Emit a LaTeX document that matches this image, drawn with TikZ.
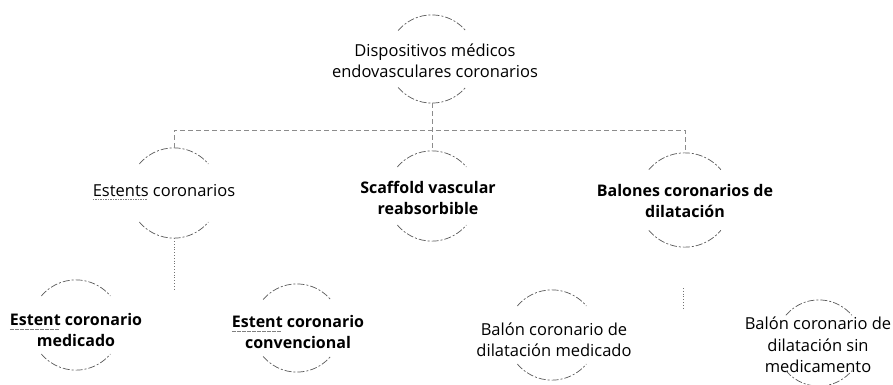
\documentclass[tikz,border=0pt]{standalone}
\usepackage{fontspec}
\setmainfont{Open Sans}
\usetikzlibrary{positioning}

\tikzset{
  hole/.style={circle, minimum size=#1, inner sep=0pt},
  item/.style={align=center, inner sep=0pt, font=\fontsize{16.5}{21.5}\selectfont},
  boss/.style={item, font=\fontsize{16}{20.5}\selectfont\bfseries},
  ring/.style={draw=black!65, dash pattern=on 7pt off 2pt on 2pt off 2pt, line width=0.7pt},
  link/.style={draw=black!45, dash pattern=on 5pt off 3pt, line width=0.6pt},
  drop/.style={draw=black!55, dotted, line width=0.8pt},
}
% top and bottom arcs round a hole node
\newcommand{\ring}[2]{%
  \draw[ring] (#1.140) arc[start angle=140, end angle=40, radius=#2];
  \draw[ring] (#1.-140) arc[start angle=-140, end angle=-40, radius=#2];
}
% dashed grey underline
\newcommand{\spell}[1]{\setbox0\hbox{#1}%
  \rlap{\raisebox{-3.5pt}{\hbox to \wd0{\color{black!50}\leaders\hbox to 2.5pt{\rule{1.6pt}{0.5pt}\hss}\hfill}}}\box0\relax}

\begin{document}
\begin{tikzpicture}[x=1pt, y=-1pt]
  \useasboundingbox (0,0) rectangle (893,385);

  % rings
  \node[hole=88pt] (dev) at (432,59) {};
  \node[hole=90pt] (est) at (174,193) {};
  \node[hole=90pt] (scaf) at (432,196) {};
  \node[hole=94pt] (bal) at (685,200) {};
  \node[hole=90pt] (med) at (76,325) {};
  \node[hole=88pt] (conv) at (297,328) {};
  \node[hole=90pt] (bmed) at (552,335) {};
  \node[hole=86pt] (bsin) at (819,343) {};

  % texts
  \node[item] (dev-t) at (435,61) {Dispositivos médicos\\endovasculares coronarios};
  \node[item] (est-t) at (164,192) {\spell{Estents} coronarios};
  \node[boss] (scaf-t) at (428,198) {Scaffold vascular\\reabsorbible};
  \node[boss] (bal-t) at (685,201) {Balones coronarios de\\dilatación};
  \node[boss] (med-t) at (76,330) {\spell{Estent} coronario\\medicado};
  \node[boss] (conv-t) at (298,332) {\spell{Estent} coronario\\convencional};
  \node[item] (bmed-t) at (554,340) {Balón coronario de\\dilatación medicado};
  \node[item] (bsin-t) at (818,345) {Balón coronario de\\dilatación sin\\medicamento};

  \foreach \n/\r in {dev/44pt, est/45pt, scaf/45pt, bal/47pt, med/45pt, conv/44pt, bmed/45pt, bsin/43pt}
    {\ring{\n}{\r}}

  % connectors
  \coordinate (bar) at (432,130);
  \draw[link] (dev.south) -- (scaf.north);
  \draw[link] (est.north) -- (est.north |- bar) -- (bal.north |- bar) -- (bal.north);
  \coordinate (est-end) at (174,290);
  \draw[drop] (est.south) -- (est-end);
  \coordinate (bal-a) at (683,288);
  \coordinate (bal-b) at (683,308);
  \draw[drop] (bal-a) -- (bal-b);
\end{tikzpicture}
\end{document}
